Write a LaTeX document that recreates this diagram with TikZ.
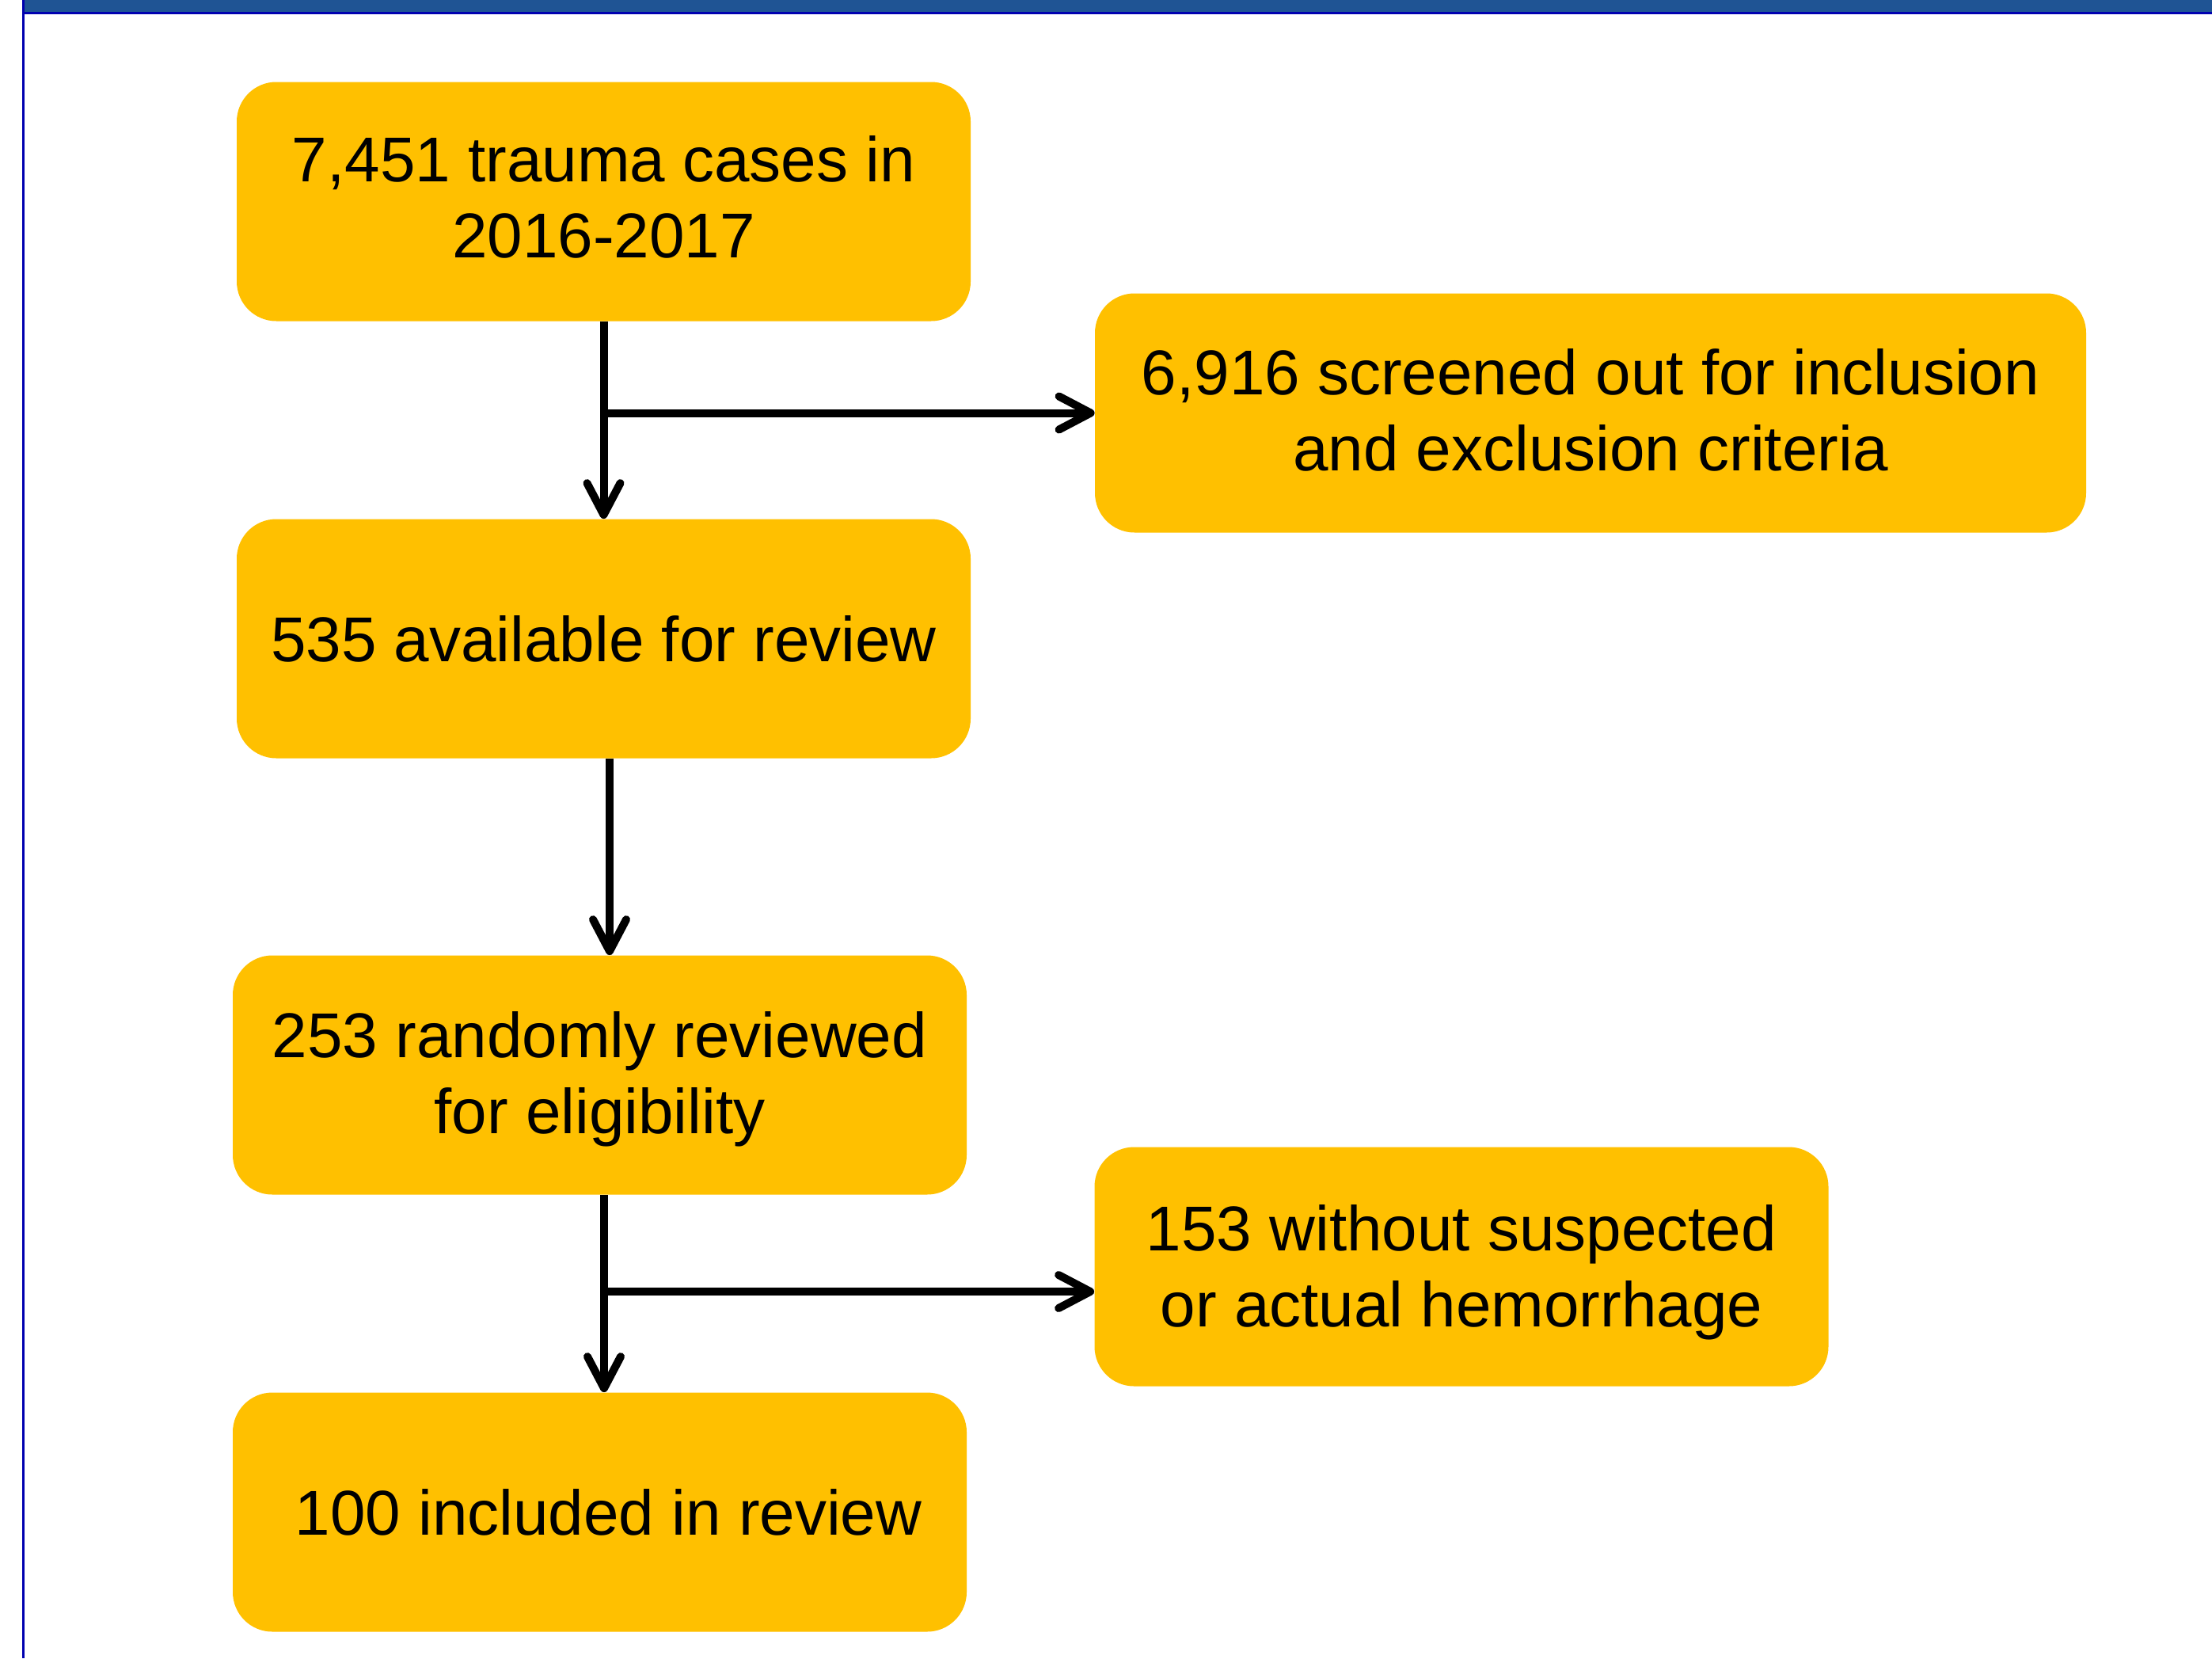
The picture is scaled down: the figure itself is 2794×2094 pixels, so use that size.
\documentclass[tikz,border=0pt]{standalone}
\usepackage{fontspec}
\setmainfont{Liberation Sans}
\usetikzlibrary{arrows.meta}
\definecolor{boxyellow}{HTML}{FFC000}
\definecolor{bandblue}{HTML}{1F5494}
\definecolor{edgeblue}{HTML}{0000B0}
\newcommand{\liftlines}[2]{\raisebox{#1}[\height][\depth]{\begin{tabular}{@{}c@{}}#2\end{tabular}}}
\tikzset{
  flowbox/.style={rectangle, rounded corners=25pt, fill=boxyellow, draw=none,
    align=center, inner sep=0pt, minimum width=463.5pt, minimum height=151pt,
    font=\fontsize{40}{48}\selectfont},
  arr/.style={line width=5pt, -{Straight Barb[length=20pt,width=21pt,round]}}
}
\begin{document}
\begin{tikzpicture}[x=0.5pt,y=-0.5pt]
\useasboundingbox (0,0) rectangle (2794,2094);
% frame
\fill[bandblue] (28,0) rectangle (2794,15);
\fill[edgeblue] (28,15) rectangle (2794,17.5);
\fill[edgeblue] (28,0) rectangle (31,2094);
% boxes
\node[flowbox] (b1) at (762.5,254.5) {\liftlines{-1.8pt}{7,451 trauma cases in\\2016-2017}};
\node[flowbox, minimum width=626pt] (b2) at (2009,521.5) {\liftlines{-2.7pt}{6,916 screened out for inclusion\\and exclusion criteria}};
\node[flowbox] (b3) at (762.5,806.5) {535 available for review};
\node[flowbox] (b4) at (757.5,1357.5) {\liftlines{-3.6pt}{253 randomly reviewed\\for eligibility}};
\node[flowbox] (b5) at (1846,1599.5) {\liftlines{-4.5pt}{153 without suspected\\or actual hemorrhage}};
\node[flowbox] (b6) at (757.5,1909.5) {\ 100 included in review};
% helper coordinates
\coordinate (x2) at (770,0);
\coordinate (x3) at (763,0);
\coordinate (y3) at (0,1631);
% connectors
\draw[arr] (b1.south) -- (b3.north);
\draw[arr] (b1.south |- b2.west) -- (b2.west);
\draw[arr] (b3.south -| x2) -- (b4.north -| x2);
\draw[arr] (b4.south -| x3) -- (b6.north -| x3);
\draw[arr] (x3 |- y3) -- (b5.west |- y3);
\end{tikzpicture}
\end{document}
